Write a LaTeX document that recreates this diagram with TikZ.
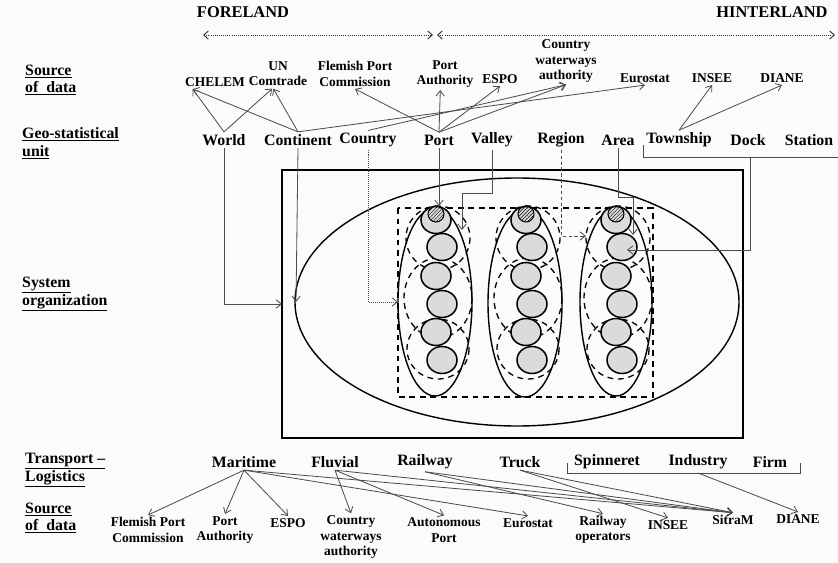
\documentclass[tikz,border=0pt]{standalone}
\usepackage{fontspec}
\setmainfont{Liberation Serif}
\usetikzlibrary{arrows.meta,patterns}

\begin{document}
\begin{tikzpicture}[x=0.03cm,y=-0.03cm,
                    geo node/.style={font=\bfseries\fontsize{13.5}{14}\selectfont, inner sep=2pt},
                    source node/.style={font=\bfseries\fontsize{11.5}{13}\selectfont, align=center, inner sep=2pt},
                    row label/.style={font=\bfseries\fontsize{13.5}{15}\selectfont, align=left, anchor=west, inner sep=0pt},
                    side label/.style={font=\bfseries\fontsize{14}{15}\selectfont},
                    span/.style={draw=black!80, line width=0.8pt, densely dotted,
                                 {Straight Barb[length=4pt,width=7pt]}-{Straight Barb[length=4pt,width=7pt]}},
                    link/.style={draw=black!70, line width=0.7pt, -{Straight Barb[length=4.5pt,width=7pt]}},
                    pole/.style={draw=black!70, line width=0.7pt},
                    cell/.style={draw, line width=1.3pt, fill=gray!28},
                    group/.style={draw, line width=1.2pt},
                    ring/.style={draw, line width=1.1pt, dash pattern=on 5pt off 4pt}]

        \useasboundingbox[fill=gray!3] (0,0) rectangle (838,563);

        % foreland / hinterland
        \node[side label] (fore) at (243,12) {FORELAND};
        \node[side label] (hinter) at (772,12) {HINTERLAND};
        \coordinate (foreL) at (203,35);
        \coordinate (foreR) at (433,35);
        \coordinate (hintL) at (437,35);
        \coordinate (hintR) at (835,35);
        \draw[span] (foreL) -- (foreR);
        \draw[span] (hintL) -- (hintR);

        % row labels
        \node[row label] (srcA) at (25,80) {\underline{Source}\\\underline{of\ \ data}};
        \node[row label] (geoA) at (22,143) {\underline{Geo-statistical}\\\underline{unit}};
        \node[row label] (sysA) at (22,294) {\underline{System}\\\underline{organization}};
        \node[row label] (trpA) at (25,470) {\underline{Transport –}\\\underline{Logistics}};
        \node[row label] (srcB) at (25,518) {\underline{Source}\\\underline{of\ \ data}};

        % sources, top
        \node[source node] (chelem) at (215,82) {CHELEM};
        \node[source node] (untrade) at (278,74) {UN\\Comtrade};
        \node[source node] (flemtop) at (355,74) {Flemish Port\\Commission};
        \node[source node] (pauthtop) at (445,74) {Port\\Authority};
        \node[source node] (espotop) at (500,79) {ESPO};
        \node[source node] (cwatop) at (566,61) {Country\\waterways\\authority};
        \node[source node] (eurotop) at (645,78) {Eurostat};
        \node[source node] (inseetop) at (712,78) {INSEE};
        \node[source node] (dianetop) at (782,78) {DIANE};

        % geo-statistical units
        \node[geo node] (world) at (224,140) {World};
        \node[geo node] (continent) at (298,140) {Continent};
        \node[geo node] (country) at (368,140) {Country};
        \node[geo node] (port) at (439,140) {Port};
        \node[geo node] (valley) at (492,140) {Valley};
        \node[geo node] (region) at (561,140) {Region};
        \node[geo node] (area) at (618,140) {Area};
        \node[geo node] (township) at (679,140) {Township};
        \node[geo node] (dock) at (748,140) {Dock};
        \node[geo node] (station) at (809,140) {Station};

        % bracket Township..Station
        \coordinate (geoB1) at (643,145);
        \coordinate (geoB2) at (643,157);
        \coordinate (geoB3) at (838,157);
        \coordinate (brdock) at (750,157);
        \draw[pole] (geoB1) -- (geoB2) -- (geoB3);

        % system organization
        \draw[line width=1.4pt] (282,170) rectangle (743,438);
        \draw[group] (517,302) ellipse [x radius=222, y radius=124];
        \draw[ring] (398,208) rectangle (653,397);
        \draw[group] (435,302) ellipse [x radius=37, y radius=94];
        \draw[group] (525,303) ellipse [x radius=37, y radius=94];
        \draw[group] (616,302) ellipse [x radius=36, y radius=94];
        \foreach \b in {436,526,616} {
            \draw[ring] (\b+2,238) ellipse [x radius=32, y radius=32];
            \draw[ring] (\b+2,298) ellipse [x radius=34, y radius=40];
            \draw[ring] (\b+2,349) ellipse [x radius=31, y radius=30];
            \foreach \dx/\y in {0/220,6/247,0/276,6/304,0/332,6/360}
                \draw[cell] (\b+\dx,\y) ellipse [x radius=15, y radius=13.5];
            \draw[line width=0.9pt, pattern=north east lines] (\b,214) ellipse [x radius=8, y radius=8];
        }

        % entry points
        \coordinate (boxL) at (282,304);
        \coordinate (bigL) at (296,302);
        \coordinate (colAL) at (398,302);
        \coordinate (colAT) at (439,206);
        \coordinate (valK) at (462,193);
        \coordinate (valE) at (462,230);
        \coordinate (colCL) at (586,236);
        \coordinate (areaK) at (633,197);
        \coordinate (areaE) at (633,235);
        \coordinate (dockE) at (627,250);

        \draw[link] (world.south) |- (boxL);
        \draw[link] (continent.south) -- (bigL);
        \draw[link, densely dotted] (country.south) |- (colAL);
        \draw[link] (port.south) -- (colAT);
        \draw[link] (valley.south) |- (valK) -- (valE);
        \draw[link, densely dashed] (region.south) |- (colCL);
        \draw[link] (area.south) |- (areaK) -- (areaE);
        \draw[link] (brdock) |- (dockE);

        % units to sources
        \draw[link] (world.north) -- ([xshift=-19pt]chelem.south);
        \draw[link] (world.north) -- ([xshift=-5pt]untrade.south);
        \draw[link] (continent.north) -- ([xshift=-19pt]chelem.south);
        \draw[link] (continent.north) -- ([xshift=-4pt]untrade.south);
        \draw[link] (continent.north) -- (eurotop.south);
        \draw[link] (country.north) -- (cwatop.south);
        \draw[link] (port.north) -- (flemtop.south);
        \draw[link] (port.north) -- ([xshift=-4pt]pauthtop.south);
        \draw[link] (port.north) -- (espotop.south);
        \draw[link] (port.north) -- (cwatop.south);
        \draw[link] (township.north) -- (inseetop.south);
        \draw[link] (township.north) -- (dianetop.south);

        % transport - logistics
        \node[geo node] (maritime) at (244,462) {Maritime};
        \node[geo node] (fluvial) at (335,462) {Fluvial};
        \node[geo node] (railway) at (425,462) {Railway};
        \node[geo node] (truck) at (520,462) {Truck};
        \node[geo node] (spinneret) at (607,462) {Spinneret};
        \node[geo node] (industry) at (698,462) {Industry};
        \node[geo node] (firm) at (770,462) {Firm};
        \coordinate (trB1) at (567,463);
        \coordinate (trB2) at (567,473);
        \coordinate (trB3) at (800,473);
        \coordinate (trB4) at (800,463);
        \coordinate (brind) at (698,473);
        \draw[pole] (trB1) -- (trB2) -- (trB3) -- (trB4);

        % sources, bottom
        \node[source node] (flembot) at (148,530) {Flemish Port\\Commission};
        \node[source node] (pauthbot) at (225,530) {Port\\Authority};
        \node[source node] (espobot) at (288,523) {ESPO};
        \node[source node] (cwabot) at (351,537) {Country\\waterways\\authority};
        \node[source node] (autobot) at (444,530) {Autonomous\\Port};
        \node[source node] (eurobot) at (528,523) {Eurostat};
        \node[source node] (railop) at (603,530) {Railway\\operators};
        \node[source node] (inseebot) at (668,525) {INSEE};
        \node[source node] (sitram) at (733,520) {SitraM};
        \node[source node] (dianebot) at (798,519) {DIANE};

        % modes to sources
        \draw[link] (maritime.south) -- (flembot.north);
        \draw[link] (maritime.south) -- (pauthbot.north);
        \draw[link] (maritime.south) -- (espobot.north);
        \draw[link] (maritime.south) -- (eurobot.north);
        \draw[link] (maritime.south) -- (sitram.north);
        \draw[link] (fluvial.south) -- (cwabot.north);
        \draw[link] (fluvial.south) -- (autobot.north);
        \draw[link] (fluvial.south) -- (sitram.north);
        \draw[link] (railway.south) -- (railop.north);
        \draw[link] (railway.south) -- (sitram.north);
        \draw[link] (truck.south) -- (inseebot.north);
        \draw[link] (truck.south) -- (sitram.north);
        \draw[link] (brind) -- (dianebot.north);
    \end{tikzpicture}
\end{document}
